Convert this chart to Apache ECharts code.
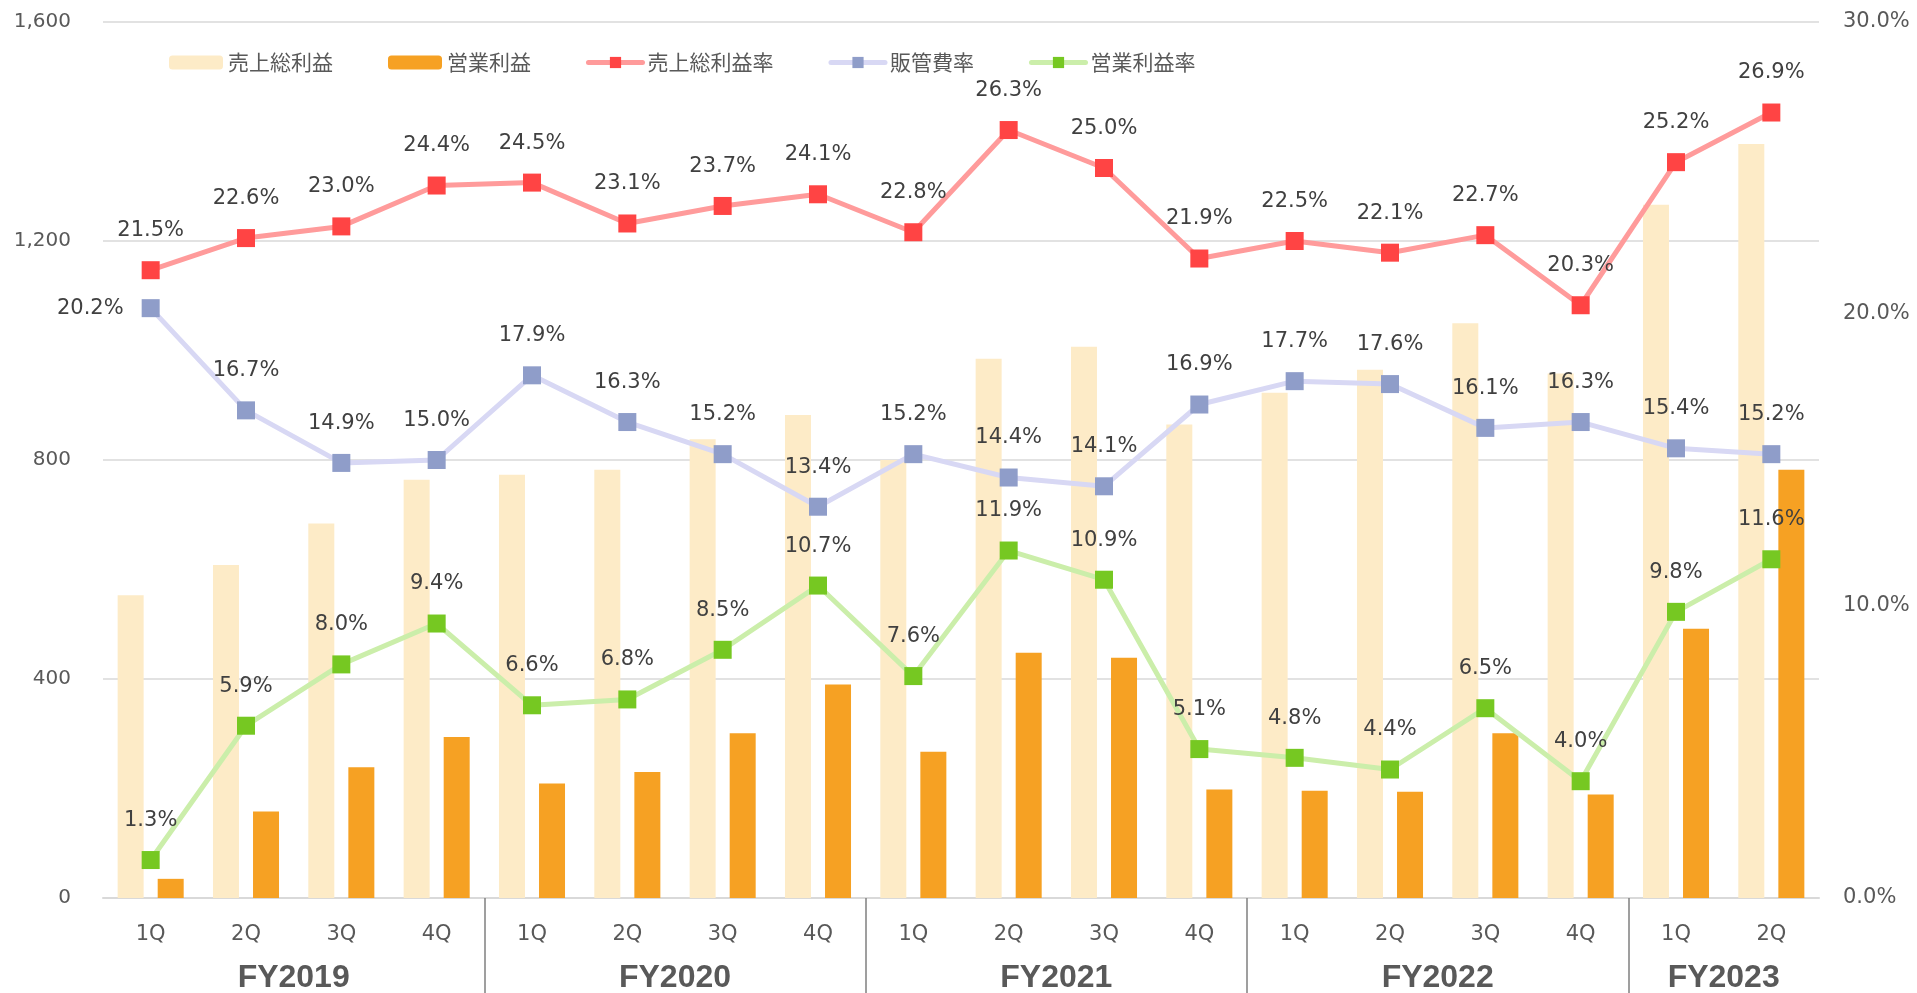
<!DOCTYPE html>
<html>
<head>
<meta charset="utf-8">
<script src="https://cdn.jsdelivr.net/npm/echarts@6/dist/echarts.min.js"></script>
<style>
html,body{margin:0;padding:0;background:#fff;}
#chart{width:1917px;height:993px;}
</style>
</head>
<body>
<div id="chart"></div>
<script>
// ---- data ----
const quarters = ['1Q','2Q','3Q','4Q','1Q','2Q','3Q','4Q','1Q','2Q','3Q','4Q','1Q','2Q','3Q','4Q','1Q','2Q'];
const fiscalYears = ['FY2019','FY2020','FY2021','FY2022','FY2023'];
const quartersPerYear = [4,4,4,4,2];
const grossProfit = [553,608,684,764,773,782,838,882,800,985,1007,865,923,965,1050,958,1266,1377];
const operatingProfit = [35,158,239,294,209,230,301,390,267,448,439,198,196,194,301,189,492,782];
const grossMargin = [21.5,22.6,23.0,24.4,24.5,23.1,23.7,24.1,22.8,26.3,25.0,21.9,22.5,22.1,22.7,20.3,25.2,26.9];
const sgaRatio = [20.2,16.7,14.9,15.0,17.9,16.3,15.2,13.4,15.2,14.4,14.1,16.9,17.7,17.6,16.1,16.3,15.4,15.2];
const opMargin = [1.3,5.9,8.0,9.4,6.6,6.8,8.5,10.7,7.6,11.9,10.9,5.1,4.8,4.4,6.5,4.0,9.8,11.6];
const seriesNames = ['売上総利益','営業利益','売上総利益率','販管費率','営業利益率'];
const leftAxis = {min:0, max:1600, interval:400};
const rightAxis = {min:0, max:30, interval:10};

// ---- fiscal-year axis (half-category slots) ----
const fyLabels = new Array(quarters.length*2+1).fill('');
const fySeparators = [];
let pos = 0;
fiscalYears.forEach((fy,i)=>{
  const n = quartersPerYear[i];
  fyLabels[2*pos + n] = fy;
  pos += n;
  if (i < fiscalYears.length-1) fySeparators.push(2*pos);
});

const labelFont = {fontFamily:'DejaVu Sans', fontSize:21, color:'#404040'};
function lineSeries(name, data, lineColor, markerColor, leftFirst){
  return {
    name, type:'line', yAxisIndex:1, z:5,
    data: data.map((v,i)=> (leftFirst && i===0)
      ? {value:v, label:{position:'left', distance:18},
         labelLine:{show:true, lineStyle:{color:'#a6a6a6', width:1.5}}}
      : v),
    symbol:'rect', symbolSize:18,
    lineStyle:{color:lineColor, width:5},
    itemStyle:{color:markerColor},
    label:{show:true, position:'top', distance:20, formatter:p=>p.value.toFixed(1)+'%', ...labelFont}
  };
}

const chart = echarts.init(document.getElementById('chart'));
chart.setOption({
  animation:false,
  backgroundColor:'#fff',
  grid:{left:103, right:98, top:22, bottom:95, outerBoundsMode:'none', containLabel:false},
  legend:{
    left:169, top:52, padding:0, itemWidth:54, itemHeight:14, itemGap:55,
    textStyle:{fontFamily:'Noto Sans CJK JP', fontSize:21, color:'#595959'},
    data:seriesNames.map((n,i)=> i<2 ? n : {name:n, lineStyle:{width:5, cap:'round'}})
  },
  xAxis:[
    {type:'category', data:quarters, position:'bottom',
     axisLine:{lineStyle:{color:'#d9d9d9', width:2}},
     axisTick:{show:false},
     axisLabel:{margin:26, fontFamily:'DejaVu Sans', fontSize:21, color:'#595959', interval:0}},
    {type:'category', data:fyLabels, boundaryGap:false, position:'bottom',
     axisLine:{show:false},
     axisTick:{show:true, length:96, interval:(idx)=>fySeparators.includes(idx), lineStyle:{color:'#808080', width:1.5}},
     axisLabel:{interval:0, margin:64, fontFamily:'Liberation Sans', fontWeight:'bold', fontSize:32, color:'#595959'}}
  ],
  yAxis:[
    {type:'value', ...leftAxis,
     axisLine:{show:false}, axisTick:{show:false},
     splitLine:{lineStyle:{color:'#d9d9d9', width:1.5}},
     axisLabel:{margin:32, fontFamily:'DejaVu Sans', fontSize:20, color:'#595959',
       formatter:v=>v.toLocaleString('en-US')}},
    {type:'value', ...rightAxis,
     axisLine:{show:false}, axisTick:{show:false}, splitLine:{show:false},
     axisLabel:{margin:24, fontFamily:'DejaVu Sans', fontSize:21, color:'#595959',
       formatter:v=>v.toFixed(1)+'%'}}
  ],
  series:[
    {name:seriesNames[0], type:'bar', data:grossProfit, barWidth:26, barGap:'54%', itemStyle:{color:'#fdebc7'}},
    {name:seriesNames[1], type:'bar', data:operatingProfit, barWidth:26, barGap:'54%', itemStyle:{color:'#f6a123'}},
    lineSeries(seriesNames[2], grossMargin, '#ff9b9b', '#ff4444', false),
    lineSeries(seriesNames[3], sgaRatio, '#d8d8f4', '#8f9dc9', true),
    lineSeries(seriesNames[4], opMargin, '#cbeeaa', '#76c822', false)
  ]
});
</script>
</body>
</html>
